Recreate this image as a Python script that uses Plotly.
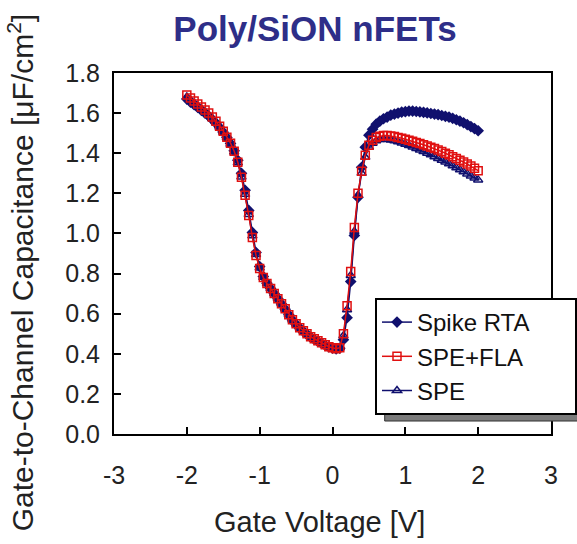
import plotly.graph_objects as go

# Gate voltage grid (V)
gate_v = [-2.00, -1.95, -1.90, -1.85, -1.80, -1.75, -1.70, -1.65, -1.60, -1.55,
          -1.50, -1.45, -1.40, -1.35, -1.30, -1.25, -1.20, -1.15, -1.10, -1.05,
          -1.00, -0.95, -0.90, -0.85, -0.80, -0.75, -0.70, -0.65, -0.60, -0.55,
          -0.50, -0.45, -0.40, -0.35, -0.30, -0.25, -0.20, -0.15, -0.10, -0.05,
          0.00, 0.05, 0.10, 0.15, 0.20, 0.25, 0.30, 0.35, 0.40, 0.45,
          0.50, 0.55, 0.60, 0.65, 0.70, 0.75, 0.80, 0.85, 0.90, 0.95,
          1.00, 1.05, 1.10, 1.15, 1.20, 1.25, 1.30, 1.35, 1.40, 1.45,
          1.50, 1.55, 1.60, 1.65, 1.70, 1.75, 1.80, 1.85, 1.90, 1.95, 2.00]

spike_rta = [1.670, 1.655, 1.642, 1.628, 1.614, 1.600, 1.585, 1.568, 1.550, 1.528,
             1.505, 1.478, 1.448, 1.412, 1.365, 1.300, 1.215, 1.115, 1.005, 0.905,
             0.835, 0.785, 0.752, 0.726, 0.700, 0.674, 0.648, 0.622, 0.594, 0.568,
             0.547, 0.528, 0.512, 0.497, 0.483, 0.472, 0.462, 0.452, 0.442, 0.434,
             0.428, 0.424, 0.428, 0.470, 0.580, 0.760, 0.990, 1.180, 1.330, 1.430,
             1.490, 1.520, 1.545, 1.560, 1.572, 1.580, 1.590, 1.595, 1.600, 1.605,
             1.607, 1.610, 1.610, 1.608, 1.606, 1.604, 1.601, 1.598, 1.595, 1.592,
             1.588, 1.584, 1.580, 1.574, 1.567, 1.560, 1.552, 1.543, 1.533, 1.523, 1.512]

spe_fla = [1.690, 1.675, 1.660, 1.645, 1.630, 1.615, 1.600, 1.580, 1.560, 1.535,
           1.510, 1.480, 1.450, 1.410, 1.355, 1.280, 1.190, 1.090, 0.980, 0.890,
           0.825, 0.780, 0.750, 0.725, 0.700, 0.675, 0.650, 0.625, 0.595, 0.570,
           0.550, 0.530, 0.515, 0.500, 0.485, 0.475, 0.465, 0.455, 0.445, 0.435,
           0.430, 0.425, 0.430, 0.500, 0.640, 0.810, 1.030, 1.200, 1.310, 1.390,
           1.440, 1.465, 1.478, 1.485, 1.488, 1.488, 1.486, 1.483, 1.479, 1.475,
           1.470, 1.465, 1.460, 1.454, 1.448, 1.442, 1.436, 1.430, 1.423, 1.416,
           1.408, 1.400, 1.392, 1.383, 1.374, 1.365, 1.356, 1.346, 1.336, 1.325, 1.313]

spe = [1.680, 1.665, 1.651, 1.636, 1.621, 1.606, 1.591, 1.573, 1.553, 1.530,
       1.505, 1.476, 1.445, 1.406, 1.352, 1.282, 1.195, 1.095, 0.988, 0.895,
       0.828, 0.781, 0.750, 0.725, 0.700, 0.675, 0.649, 0.623, 0.594, 0.569,
       0.548, 0.529, 0.513, 0.498, 0.484, 0.473, 0.463, 0.453, 0.443, 0.434,
       0.429, 0.425, 0.430, 0.490, 0.620, 0.790, 1.010, 1.190, 1.300, 1.380,
       1.430, 1.450, 1.462, 1.468, 1.470, 1.469, 1.466, 1.462, 1.457, 1.451,
       1.445, 1.438, 1.431, 1.424, 1.416, 1.408, 1.400, 1.392, 1.383, 1.374,
       1.365, 1.356, 1.347, 1.337, 1.327, 1.317, 1.307, 1.297, 1.287, 1.277, 1.267]

x_ticks = [-3, -2, -1, 0, 1, 2, 3]
y_ticks = [0.0, 0.2, 0.4, 0.6, 0.8, 1.0, 1.2, 1.4, 1.6, 1.8]

FONT = "Liberation Sans, Arial, sans-serif"
NAVY = "#10106e"
RED = "#e01010"
PAD = "\u00a0" * 6  # widens the legend box like the reference

fig = go.Figure()
fig.add_trace(go.Scatter(
    x=gate_v, y=spe, name="SPE", mode="lines+markers", legendrank=3,
    line=dict(color=NAVY, width=1.5),
    marker=dict(symbol="triangle-up-open", size=8, color=NAVY, line=dict(width=1.5, color=NAVY))))
fig.add_trace(go.Scatter(
    x=gate_v, y=spike_rta, name="Spike RTA" + PAD, mode="lines+markers", legendrank=1,
    line=dict(color=NAVY, width=1.5),
    marker=dict(symbol="diamond", size=9, color=NAVY)))
fig.add_trace(go.Scatter(
    x=gate_v, y=spe_fla, name="SPE+FLA", mode="lines+markers", legendrank=2,
    line=dict(color=RED, width=1.5),
    marker=dict(symbol="square-open", size=8, color=RED, line=dict(width=1.5, color=RED))))

L, R, T, B = 114, 25.5, 72.5, 110
W, H = 577, 544
pw, ph = W - L - R, H - T - B

def px_x(px):
    return (px - L) / pw

def px_y(py):
    return (H - B - py) / ph

fig.update_layout(
    width=W, height=H,
    margin=dict(l=L, r=R, t=T, b=B, autoexpand=False),
    paper_bgcolor="white", plot_bgcolor="white",
    font=dict(family=FONT, color="#222222"),
    title=dict(text="<b>Poly/SiON nFETs</b>", font=dict(size=35, color="#2e2e88", family=FONT),
               x=315 / W, xanchor="center", xref="container",
               y=1 - 29 / H, yanchor="middle", yref="container"),
    xaxis=dict(range=[-3, 3], tickvals=x_ticks, ticktext=[str(v) for v in x_ticks],
               ticks="inside", ticklen=7, tickwidth=1.5, tickcolor="black",
               showline=True, linecolor="black", linewidth=2, mirror=True,
               showgrid=False, zeroline=False,
               tickfont=dict(size=25, color="#222222"), ticklabelstandoff=18),
    yaxis=dict(range=[0, 1.8], tickvals=y_ticks, ticktext=[f"{v:.1f}" for v in y_ticks],
               ticks="inside", ticklen=7, tickwidth=1.5, tickcolor="black",
               showline=True, linecolor="black", linewidth=2, mirror=True,
               showgrid=False, zeroline=False,
               tickfont=dict(size=25, color="#222222"), ticklabelstandoff=7),
    legend=dict(x=375 / W, y=1 - 298 / H, xref="container", yref="container",
                xanchor="left", yanchor="top",
                bgcolor="white", bordercolor="black", borderwidth=2,
                font=dict(size=24, color="#111111", family=FONT),
                tracegroupgap=0, itemwidth=30),
    showlegend=True,
    shapes=[dict(type="rect", xref="paper", yref="paper",
                 x0=px_x(385), x1=px_x(580), y0=px_y(421), y1=px_y(320),
                 fillcolor="#7a7a7a", line=dict(color="#333333", width=1), layer="above")],
    annotations=[
        dict(text="Gate Voltage [V]", xref="paper", yref="paper",
             x=px_x(320), y=px_y(522), xanchor="center", yanchor="middle",
             showarrow=False, font=dict(size=29, color="#222222", family=FONT)),
        dict(text="Gate-to-Channel Capacitance [\u03bcF/cm<sup>2</sup>]", xref="paper", yref="paper",
             x=px_x(21), y=px_y(272), xanchor="center", yanchor="middle", textangle=-90,
             showarrow=False, font=dict(size=30, color="#222222", family=FONT)),
    ],
)

fig.write_html("out.html")
